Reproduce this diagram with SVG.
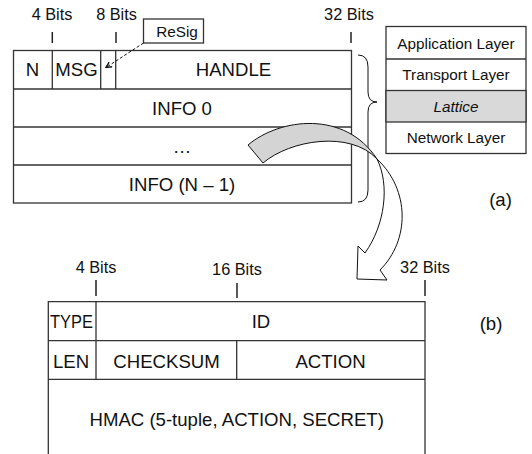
<svg xmlns="http://www.w3.org/2000/svg" width="532" height="454" viewBox="0 0 532 454">
<defs>
<style>
text{font-family:"Liberation Sans",Arial,sans-serif;fill:#111;text-anchor:middle}
.f18{font-size:18.6px}
.f16{font-size:16.3px}
.f15{font-size:15.3px}
.box{fill:#fff;stroke:#333;stroke-width:1.3}
.ln{stroke:#333;stroke-width:1.3;fill:none}
.tick{stroke:#222;stroke-width:1.5}
.curve{stroke:#111;stroke-width:1;fill:none}
</style>
<marker id="ah" viewBox="0 0 10 10" refX="9" refY="5" markerWidth="7" markerHeight="7" orient="auto">
<path d="M1,1 L9,5 L1,9" fill="none" stroke="#111" stroke-width="2"/>
</marker>
</defs>
<rect width="532" height="454" fill="#fff"/>

<g id="packet-a">
<rect class="box" x="13.5" y="50.5" width="338" height="152.5"/>
<line class="ln" x1="13.5" y1="89" x2="351.5" y2="89"/>
<line class="ln" x1="13.5" y1="127" x2="351.5" y2="127"/>
<line class="ln" x1="13.5" y1="165" x2="351.5" y2="165"/>
<line class="ln" x1="52.3" y1="50.5" x2="52.3" y2="89"/>
<line class="ln" x1="100.7" y1="50.5" x2="100.7" y2="89"/>
<line class="ln" x1="115.7" y1="50.5" x2="115.7" y2="89"/>
<text class="f18" x="32.5" y="76">N</text>
<text class="f18" x="76.5" y="76">MSG</text>
<text class="f18" x="233.5" y="76">HANDLE</text>
<text class="f18" x="182" y="114.5">INFO 0</text>
<text class="f18" x="182" y="152.5">…</text>
<text class="f18" x="182" y="191">INFO (N – 1)</text>
</g>

<g id="bits-a">
<text class="f16" x="52" y="20">4 Bits</text>
<text class="f16" x="116.5" y="20">8 Bits</text>
<text class="f16" x="349" y="20">32 Bits</text>
<line class="tick" x1="52.3" y1="32" x2="52.3" y2="43"/>
<line class="tick" x1="116" y1="32" x2="116" y2="43"/>
<line class="tick" x1="351" y1="32" x2="351" y2="43"/>
</g>

<g id="resig">
<rect class="box" x="143.5" y="19" width="60" height="24"/>
<text class="f15" x="177" y="36.5">ReSig</text>
</g>

<g id="layers">
<rect class="box" x="386" y="26.5" width="140" height="127"/>
<rect x="386" y="90.5" width="140" height="31.5" fill="#d9d9d9" stroke="#333" stroke-width="1.3"/>
<line class="ln" x1="386" y1="59" x2="526" y2="59"/>
<text class="f15" x="456" y="48.5">Application Layer</text>
<text class="f15" x="456" y="80">Transport Layer</text>
<text class="f15" x="456" y="111.5" font-style="italic">Lattice</text>
<text class="f15" x="456" y="143">Network Layer</text>
</g>

<text class="f18" x="500.5" y="205.5">(a)</text>

<g id="packet-b">
<path class="ln" d="M48.3,454 L48.3,301.7 L425,301.7 L425,454"/>
<line class="ln" x1="48.3" y1="340.7" x2="425" y2="340.7"/>
<line class="ln" x1="48.3" y1="379.3" x2="425" y2="379.3"/>
<line class="ln" x1="96" y1="301.7" x2="96" y2="379.3"/>
<line class="ln" x1="236.7" y1="340.7" x2="236.7" y2="379.3"/>
<text class="f18" x="71.5" y="327.5" textLength="43" lengthAdjust="spacingAndGlyphs">TYPE</text>
<text class="f18" x="261" y="327.5">ID</text>
<text class="f18" x="71" y="367.5">LEN</text>
<text class="f18" x="166.5" y="367.5">CHECKSUM</text>
<text class="f18" x="330.5" y="367.5">ACTION</text>
<text class="f18" x="236.7" y="425.5">HMAC (5-tuple, ACTION, SECRET)</text>
</g>

<g id="bits-b">
<text class="f16" x="96" y="272.5">4 Bits</text>
<text class="f16" x="237" y="275">16 Bits</text>
<text class="f16" x="425" y="272.5">32 Bits</text>
<line class="tick" x1="96" y1="280" x2="96" y2="296"/>
<line class="tick" x1="237" y1="283" x2="237" y2="298"/>
<line class="tick" x1="425" y1="280" x2="425" y2="296"/>
</g>

<text class="f18" x="491" y="329.5">(b)</text>

<g id="connectors">
<path class="curve" d="M358,55 Q368,55 368,67 L368,92 Q368,102 377,102 Q368,102 368,112 L368,190 Q368,202 358,202"/>
<line x1="143.5" y1="43" x2="106" y2="67.5" stroke="#111" stroke-width="1" stroke-dasharray="3,2" marker-end="url(#ah)"/>
<path d="M248,145 C280,118 345,110 377,159 C350,130 290,140 263,163 Z" fill="#d4d4d4" stroke="#111" stroke-width="1"/>
<path d="M377,159 C410,190 410,240 380,270 L387,280 L357,279 L358,246 L365,253 C385,225 390,185 377,159 Z" fill="#fff" stroke="#111" stroke-width="1"/>
</g>
</svg>
